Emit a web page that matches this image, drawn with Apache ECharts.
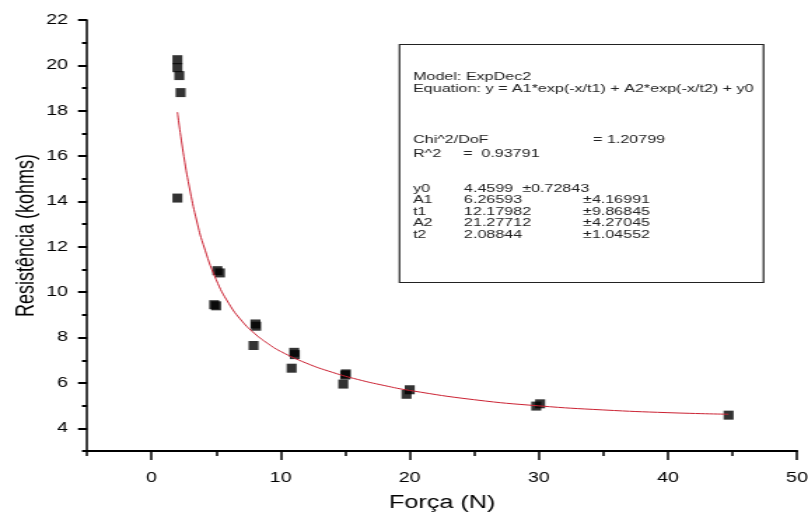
<!DOCTYPE html>
<html><head><meta charset="utf-8">
<script src="https://cdn.jsdelivr.net/npm/echarts@6/dist/echarts.min.js"></script>
<style>
html,body{margin:0;padding:0;background:#fff;overflow:hidden}
#wrap{width:808px;height:519px;overflow:hidden;background:#fff}
#c{width:577px;height:519px;transform-origin:0 0;}
</style>
</head><body><div id="wrap"><div id="c"></div></div>
<script>
// Measured points (Força in N, Resistência in kohms)
const pointsX = [2.0, 2.0, 2.15, 2.25, 2.0, 4.85, 5.0, 5.1, 5.3, 7.9, 8.1, 8.05, 10.85, 11.05, 11.1, 14.85, 15.0, 15.05, 19.75, 20.0, 29.8, 30.1, 44.7];
const pointsY = [20.25, 19.9, 19.55, 18.8, 14.15, 9.45, 9.4, 10.95, 10.85, 7.65, 8.5, 8.6, 6.65, 7.35, 7.25, 5.95, 6.35, 6.4, 5.5, 5.7, 4.98, 5.08, 4.58];
// Fitted curve
const fitX = [2, 2.5, 3, 3.5, 4, 5, 6, 7, 8, 9, 10, 12, 14, 16, 18, 20, 25, 30, 35, 40, 44.7];
const fitY = [17.94, 15.99, 14.42, 13.14, 12.11, 10.56, 9.49, 8.73, 8.17, 7.74, 7.39, 6.87, 6.47, 6.15, 5.89, 5.67, 5.26, 4.99, 4.81, 4.69, 4.62];
// Tick values
const xMajorTicks = [0, 10, 20, 30, 40, 50];
const xMinorTicks = [-5, 5, 15, 25, 35, 45];
const yMajorTicks = [4, 6, 8, 10, 12, 14, 16, 18, 20, 22];
const yMinorTicks = [3, 5, 7, 9, 11, 13, 15, 17, 19, 21];
// Fit report text
const reportHead = ['Model: ExpDec2', 'Equation: y = A1*exp(-x/t1) + A2*exp(-x/t2) + y0'];
const paramNames = ['y0', 'A1', 't1', 'A2', 't2'];
const paramValues = ['4.4599  \u00b10.72843', '6.26593', '12.17982', '21.27712', '2.08844'];
const paramErrors = ['', '\u00b14.16991', '\u00b19.86845', '\u00b14.27045', '\u00b11.04552'];

// The reference picture is stretched horizontally; reproduce with a horizontal scale.
const W = 577, H = 519, S = 808 / W;
const dom = document.getElementById('c');
dom.style.transform = 'scaleX(' + S + ')';

const FONT = '"Liberation Sans", Arial, sans-serif';
const chart = echarts.init(dom, null, {renderer: 'canvas', width: W, height: H});

const txtFont = '11.5px ' + FONT;
const texts = [];
function addText(t, x, y) {
  texts.push({type: 'text', z: 101, style: {text: t, x: x / S, y: y, font: txtFont, fill: '#222', verticalAlign: 'middle'}});
}
addText(reportHead[0], 413, 77);
addText(reportHead[1], 413, 88.5);
addText('Chi^2/DoF', 413, 139.5);
addText('= 1.20799', 593, 139.5);
addText('R^2', 413, 153.5);
addText('=  0.93791', 463, 153.5);
const rowY = [188.5, 200, 211.7, 223.3, 235];
paramNames.forEach((n, i) => {
  addText(n, 413, rowY[i]);
  addText(paramValues[i], 464, rowY[i]);
  if (paramErrors[i]) addText(paramErrors[i], 583, rowY[i]);
});

chart.setOption({
  animation: false,
  backgroundColor: '#fff',
  grid: {left: 87 / S, right: 11 / S, top: 20, bottom: 68, containLabel: false, outerBoundsMode: 'none'},
  xAxis: [
    {
      type: 'value', min: -5, max: 50, position: 'bottom', splitLine: {show: false},
      axisLine: {onZero: false, lineStyle: {color: '#000', width: 2}},
      axisTick: {customValues: xMajorTicks, length: 9, lineStyle: {color: '#000', width: 1.5}},
      axisLabel: {customValues: xMajorTicks, margin: 20, fontSize: 14, color: '#000', fontFamily: FONT},
      name: 'Força (N)', nameLocation: 'middle', nameGap: 43, nameMoveOverlap: false,
      nameTextStyle: {fontSize: 18, color: '#000', fontFamily: FONT}
    },
    {
      type: 'value', min: -5, max: 50, position: 'bottom', splitLine: {show: false},
      axisLine: {show: false, onZero: false},
      axisTick: {customValues: xMinorTicks, length: 5, lineStyle: {color: '#000', width: 1.5}},
      axisLabel: {show: false}
    }
  ],
  yAxis: [
    {
      type: 'value', min: 3, max: 22, position: 'left', splitLine: {show: false},
      axisLine: {show: true, onZero: false, lineStyle: {color: '#000', width: 1.5}},
      axisTick: {show: true, customValues: yMajorTicks, length: 9 / S, lineStyle: {color: '#000', width: 2}},
      axisLabel: {customValues: yMajorTicks, margin: 19 / S, fontSize: 14, color: '#000', fontFamily: FONT},
      name: 'Resistência (kohms)', nameLocation: 'middle', nameGap: 34, nameMoveOverlap: false,
      nameTextStyle: {fontSize: 18, color: '#000', fontFamily: FONT}
    },
    {
      type: 'value', min: 3, max: 22, position: 'left', splitLine: {show: false},
      axisLine: {show: false, onZero: false},
      axisTick: {show: true, customValues: yMinorTicks, length: 5 / S, lineStyle: {color: '#000', width: 2}},
      axisLabel: {show: false}
    }
  ],
  series: [
    {
      type: 'scatter', xAxisIndex: 0, yAxisIndex: 0,
      data: pointsX.map((x, i) => [x, pointsY[i]]),
      symbol: 'rect', symbolSize: [10 / S, 9],
      itemStyle: {color: '#000'}, z: 3
    },
    {
      type: 'line', xAxisIndex: 0, yAxisIndex: 0,
      data: fitX.map((x, i) => [x, fitY[i]]),
      showSymbol: false, smooth: true,
      lineStyle: {color: '#cc2233', width: 1}, z: 4
    }
  ],
  graphic: [
    {type: 'rect', z: 100, shape: {x: 399.5 / S, y: 44.5, width: 364 / S, height: 238},
     style: {fill: '#fff', stroke: '#222', lineWidth: 1.2}}
  ].concat(texts)
});
</script>
</body></html>
